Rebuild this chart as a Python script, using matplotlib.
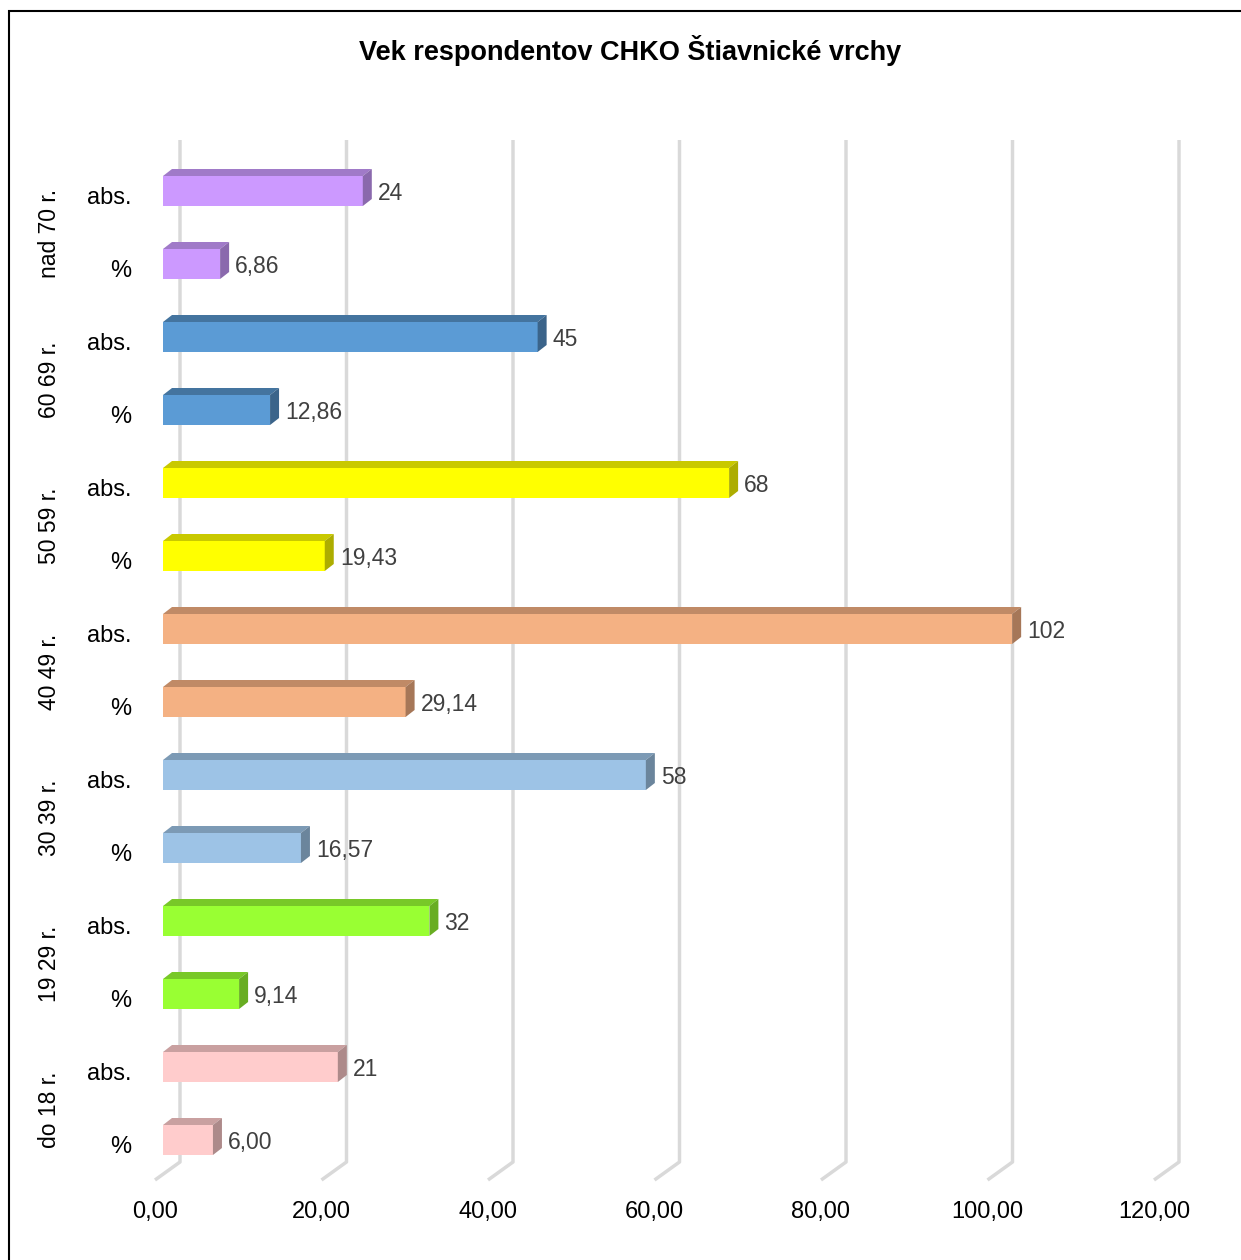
import matplotlib.pyplot as plt
from matplotlib.patches import Polygon, Rectangle

plt.rcParams['font.family'] = ['Liberation Sans Narrow', 'Liberation Sans', 'DejaVu Sans']

# age groups bottom -> top, each with a "%" bar and an "abs." bar
groups = ["do 18 r.", "19 29 r.", "30 39 r.", "40 49 r.", "50 59 r.", "60 69 r.", "nad 70 r."]
pct = [6.00, 9.14, 16.57, 29.14, 19.43, 12.86, 6.86]
absn = [21, 32, 58, 102, 68, 45, 24]
pct_labels = ["6,00", "9,14", "16,57", "29,14", "19,43", "12,86", "6,86"]
abs_labels = ["21", "32", "58", "102", "68", "45", "24"]
front = ["#FFCCCC", "#99FF33", "#9DC3E6", "#F4B183", "#FFFF00", "#5B9BD5", "#CC99FF"]
top = ["#C9A0A0", "#78C828", "#7C9AB5", "#C08A66", "#C9C900", "#44749F", "#A07AC8"]
side = ["#AD8A8A", "#68AD22", "#6B859C", "#A67758", "#ADAD00", "#3B648A", "#8A69AD"]
xticks = [0, 20, 40, 60, 80, 100, 120]
xtick_labels = ["0,00", "20,00", "40,00", "60,00", "80,00", "100,00", "120,00"]

W, H = 1241, 1260
fig = plt.figure(figsize=(W / 100, H / 100), dpi=100)
ax = fig.add_axes([0, 0, 1, 1])

SX = 8.325   # px per value unit
SY = 73.0    # px per bar slot
X0 = 163     # px of value 0 on the bar front
Y0 = 1140    # px (from top) of the lowest bar centre
ax.set_xlim(-X0 / SX, (W - X0) / SX)
ax.set_ylim((Y0 - H) / SY, Y0 / SY)
ax.axis("off")

px = lambda p: p / SX
py = lambda p: p / SY

# back wall gridlines with floor return
y_wall_top = py(Y0 - 140)
y_wall_bot = py(Y0 - 1162)
for t, tl in zip(xticks, xtick_labels):
    xb = t + px(17)
    xf = t - px(8)
    ax.plot([xb, xb, xf], [y_wall_top, y_wall_bot, y_wall_bot - py(18)],
            color="#D9D9D9", lw=2.5, solid_capstyle="butt", zorder=1)
    ax.text(xf, py(Y0 - 1212), tl, ha="center", va="center", fontsize=17, color="black")

# 3D-looking bars
half = py(15)
dx, dy = px(9), py(7)
for g in range(len(groups)):
    for k, (val, lab, name) in enumerate([(pct[g], pct_labels[g], "%"),
                                          (absn[g], abs_labels[g], "abs.")]):
        y = 2 * g + k
        b, tp = y - half, y + half
        ax.add_patch(Rectangle((0, b), val, 2 * half, facecolor=front[g],
                               edgecolor="none", zorder=3))
        ax.add_patch(Polygon([(0, tp), (val, tp), (val + dx, tp + dy), (dx, tp + dy)],
                             closed=True, facecolor=top[g], edgecolor="none", zorder=3))
        ax.add_patch(Polygon([(val, b), (val, tp), (val + dx, tp + dy), (val + dx, b + dy)],
                             closed=True, facecolor=side[g], edgecolor="none", zorder=3))
        ax.text(val + px(15), y - py(2), lab, ha="left", va="center",
                fontsize=16.5, color="#404040", zorder=4)
        ax.text(px(131 - X0), y - py(7), name, ha="right", va="center",
                fontsize=17, color="black")
    ax.text(px(50 - X0), 2 * g + 0.5 - py(6), groups[g], ha="center", va="center",
            rotation=90, fontsize=16.5, color="black")

fig.text(630 / W, 1 - 50 / H, "Vek respondentov CHKO Štiavnické vrchy",
         ha="center", va="center", fontsize=19.5, fontweight="bold")

# chart frame
fig.add_artist(Rectangle((9 / W, -0.1), 1.2, 1 - 11 / H + 0.1, transform=fig.transFigure,
                         fill=False, edgecolor="black", lw=1.5))

fig.savefig("out.png", dpi=100, facecolor="white")
